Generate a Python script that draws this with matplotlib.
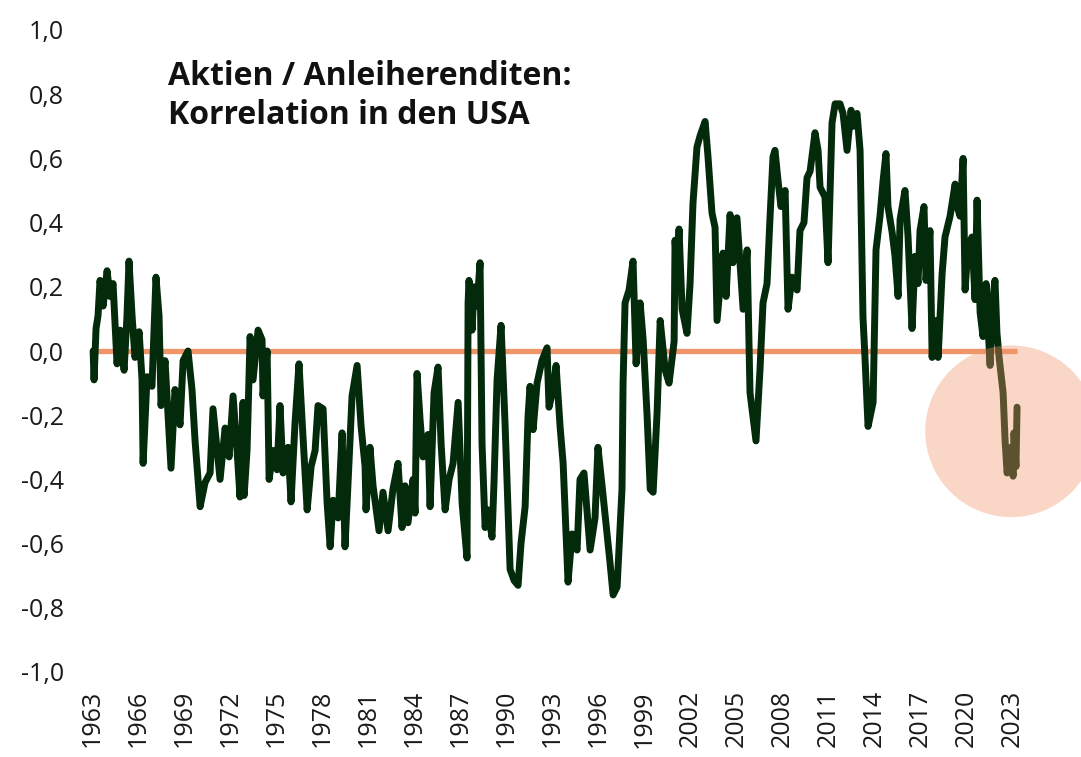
import matplotlib
matplotlib.use("Agg")
import matplotlib.pyplot as plt
from matplotlib.patches import Ellipse

plt.rcParams["font.family"] = ["Open Sans", "DejaVu Sans"]

# Rolling correlation between US equity returns and bond yields
years = [
    1963.07, 1963.13, 1963.26, 1963.39, 1963.52, 1963.72, 1963.98, 1964.17, 1964.37, 1964.63,
    1964.83, 1965.09, 1965.28, 1965.41, 1965.61, 1965.80, 1966.07, 1966.26, 1966.33, 1966.59,
    1966.91, 1967.17, 1967.37, 1967.50, 1967.76, 1968.15, 1968.41, 1968.74, 1968.94, 1969.26,
    1969.52, 1969.72, 1970.05, 1970.37, 1970.70, 1970.89, 1971.35, 1971.68, 1971.94, 1972.20,
    1972.46, 1972.65, 1972.85, 1972.92, 1973.11, 1973.31, 1973.50, 1973.83, 1974.09, 1974.15,
    1974.42, 1974.55, 1974.81, 1975.07, 1975.26, 1975.46, 1975.79, 1975.98, 1976.24, 1976.50,
    1976.70, 1977.03, 1977.29, 1977.55, 1977.74, 1978.07, 1978.33, 1978.53, 1978.72, 1979.05,
    1979.31, 1979.50, 1979.70, 1979.96, 1980.29, 1980.55, 1980.81, 1980.87, 1981.13, 1981.33,
    1981.72, 1981.98, 1982.31, 1982.63, 1982.96, 1983.22, 1983.42, 1983.61, 1983.94, 1984.07,
    1984.20, 1984.40, 1984.59, 1984.92, 1985.05, 1985.31, 1985.57, 1985.77, 1986.03, 1986.29,
    1986.55, 1986.88, 1987.14, 1987.46, 1987.53, 1987.59, 1987.79, 1987.92, 1988.11, 1988.31,
    1988.44, 1988.64, 1988.83, 1989.09, 1989.22, 1989.42, 1989.68, 1989.94, 1990.27, 1990.53,
    1990.79, 1990.98, 1991.25, 1991.44, 1991.57, 1991.77, 1992.03, 1992.35, 1992.68, 1992.81,
    1993.07, 1993.27, 1993.53, 1993.73, 1994.05, 1994.31, 1994.64, 1994.83, 1995.09, 1995.49,
    1995.81, 1996.00, 1996.27, 1996.79, 1996.99, 1997.25, 1997.57, 1997.64, 1997.77, 1998.03,
    1998.29, 1998.49, 1998.75, 1998.95, 1999.21, 1999.41, 1999.60, 1999.86, 2000.06, 2000.39,
    2000.64, 2000.97, 2001.03, 2001.16, 2001.29, 2001.49, 2001.81, 2002.01, 2002.20, 2002.46,
    2002.66, 2002.99, 2003.18, 2003.44, 2003.64, 2003.77, 2004.16, 2004.36, 2004.62, 2004.81,
    2005.07, 2005.47, 2005.73, 2005.92, 2006.31, 2006.57, 2006.77, 2007.03, 2007.23, 2007.42,
    2007.55, 2007.75, 2007.94, 2008.21, 2008.40, 2008.66, 2008.99, 2009.18, 2009.44, 2009.64,
    2009.84, 2010.16, 2010.36, 2010.49, 2010.81, 2011.01, 2011.27, 2011.47, 2011.79, 2011.99,
    2012.25, 2012.51, 2012.64, 2012.90, 2013.10, 2013.29, 2013.42, 2013.62, 2013.95, 2014.14,
    2014.40, 2014.60, 2014.79, 2014.92, 2015.19, 2015.38, 2015.58, 2015.71, 2016.03, 2016.23,
    2016.49, 2016.69, 2016.88, 2017.01, 2017.27, 2017.40, 2017.66, 2017.80, 2017.99, 2018.19,
    2018.45, 2018.64, 2018.97, 2019.30, 2019.43, 2019.62, 2019.82, 2019.95, 2020.14, 2020.40,
    2020.60, 2020.73, 2020.93, 2021.12, 2021.32, 2021.45, 2021.58, 2021.71, 2021.90, 2022.03,
    2022.17, 2022.43, 2022.56, 2022.69, 2022.95, 2023.08, 2023.14, 2023.27, 2023.34,
]
correlation = [
    0.00, -0.09, 0.07, 0.11, 0.22, 0.14, 0.25, 0.17, 0.21, -0.04,
    0.065, -0.06, 0.11, 0.28, 0.11, -0.02, 0.06, -0.09, -0.35, -0.08,
    -0.11, 0.23, 0.11, -0.17, -0.03, -0.365, -0.12, -0.23, -0.03, 0.00,
    -0.12, -0.28, -0.485, -0.41, -0.38, -0.18, -0.40, -0.24, -0.33, -0.14,
    -0.31, -0.455, -0.16, -0.45, -0.31, 0.045, -0.09, 0.065, 0.035, -0.14,
    0.00, -0.40, -0.31, -0.37, -0.17, -0.38, -0.30, -0.47, -0.225, -0.04,
    -0.215, -0.495, -0.36, -0.31, -0.17, -0.18, -0.47, -0.61, -0.465, -0.52,
    -0.255, -0.61, -0.41, -0.14, -0.045, -0.235, -0.36, -0.495, -0.30, -0.42,
    -0.56, -0.44, -0.56, -0.43, -0.35, -0.55, -0.42, -0.535, -0.40, -0.505,
    -0.07, -0.215, -0.33, -0.26, -0.485, -0.13, -0.05, -0.29, -0.495, -0.40,
    -0.35, -0.16, -0.475, -0.645, 0.15, 0.22, 0.065, 0.20, 0.14, 0.275,
    -0.29, -0.55, -0.495, -0.58, -0.41, -0.09, 0.08, -0.225, -0.68, -0.715,
    -0.73, -0.60, -0.485, -0.205, -0.11, -0.245, -0.10, -0.03, 0.01, -0.175,
    -0.12, -0.045, -0.235, -0.35, -0.72, -0.57, -0.62, -0.40, -0.38, -0.62,
    -0.52, -0.30, -0.42, -0.66, -0.76, -0.735, -0.43, -0.10, 0.15, 0.19,
    0.28, -0.04, 0.15, 0.035, -0.205, -0.43, -0.44, -0.19, 0.095, -0.06,
    -0.10, 0.03, 0.345, 0.25, 0.38, 0.13, 0.055, 0.21, 0.46, 0.635,
    0.67, 0.715, 0.605, 0.43, 0.385, 0.095, 0.305, 0.17, 0.425, 0.275,
    0.415, 0.13, 0.315, -0.13, -0.28, -0.06, 0.15, 0.21, 0.42, 0.605,
    0.625, 0.53, 0.45, 0.50, 0.13, 0.23, 0.19, 0.375, 0.40, 0.54,
    0.56, 0.68, 0.625, 0.51, 0.48, 0.275, 0.71, 0.77, 0.77, 0.74,
    0.625, 0.75, 0.70, 0.74, 0.625, 0.105, -0.02, -0.235, -0.16, 0.315,
    0.42, 0.53, 0.615, 0.45, 0.37, 0.295, 0.17, 0.41, 0.50, 0.355,
    0.07, 0.295, 0.21, 0.375, 0.45, 0.22, 0.375, -0.02, 0.095, -0.02,
    0.24, 0.355, 0.42, 0.52, 0.45, 0.42, 0.60, 0.19, 0.325, 0.355,
    0.16, 0.47, 0.12, 0.045, 0.21, 0.075, -0.045, 0.14, 0.22, 0.055,
    -0.02, -0.13, -0.28, -0.38, -0.30, -0.39, -0.255, -0.36, -0.175,
]

tick_years = list(range(1963, 2024, 3))
y_ticks = [-1.0, -0.8, -0.6, -0.4, -0.2, 0.0, 0.2, 0.4, 0.6, 0.8, 1.0]

# highlighted recent period (centre and extent in data units)
highlight_center = (2022.95, -0.25)
highlight_size = (11.2, 0.535)

title = "Aktien / Anleiherenditen:\nKorrelation in den USA"

LINE_GREEN = "#032a0b"
ORANGE = "#f0956a"
TEXT = "#1a1a1a"

W, H = 1081, 757
fig = plt.figure(figsize=(W / 100, H / 100), dpi=100)
ax = fig.add_axes([85 / W, 1 - 672 / H, 990 / W, 642 / H])

ax.hlines(0, years[0], years[-1], color=ORANGE, lw=3.8, zorder=1)
ax.plot(years, correlation, color=LINE_GREEN, lw=5.0, solid_joinstyle="round",
        solid_capstyle="round", zorder=2)

ax.add_patch(Ellipse(highlight_center, highlight_size[0], highlight_size[1],
                     facecolor=ORANGE, alpha=0.38, edgecolor="none",
                     clip_on=False, zorder=3))

ax.set_xlim(1962.54, 2027.12)
ax.set_ylim(-1.0, 1.0)

ax.set_xticks(tick_years)
ax.set_xticklabels([str(y) for y in tick_years], rotation=90, va="top", ha="center")
ax.set_yticks(y_ticks)
ax.set_yticklabels([f"{round(v, 1):.1f}".replace(".", ",").replace("-0,0", "0,0")
                    for v in y_ticks])

ax.tick_params(axis="both", length=0, labelsize=18, labelcolor=TEXT)
ax.tick_params(axis="x", pad=13)
ax.tick_params(axis="y", pad=15)
for s in ax.spines.values():
    s.set_visible(False)

fig.text(168 / W, 1 - 60 / H, title, fontsize=23, fontweight="bold",
         color="#111111", va="top", ha="left", linespacing=1.24)

fig.savefig("out.png", dpi=100)
